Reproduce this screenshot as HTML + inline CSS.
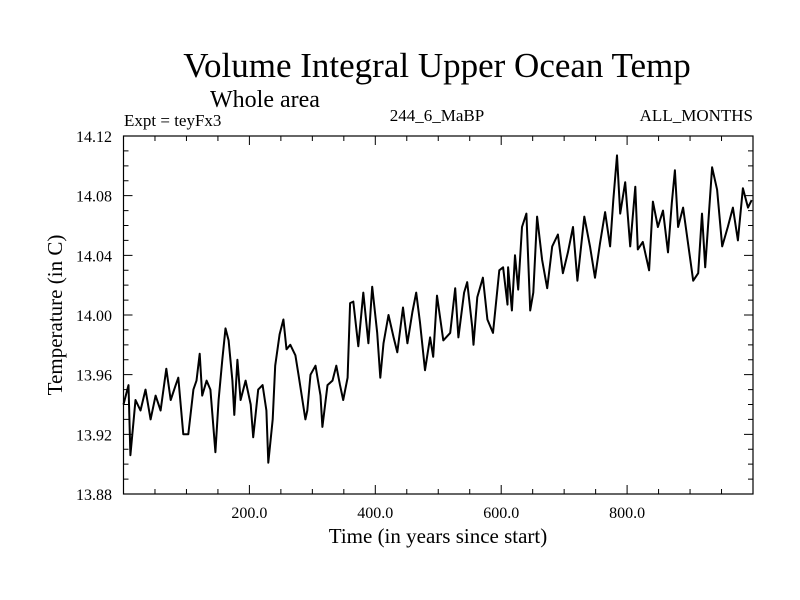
<!DOCTYPE html>
<html><head><meta charset="utf-8"><style>
body{margin:0;background:#fff}
svg{display:block;font-family:"Liberation Serif",serif}
</style></head><body>
<svg id="chart" width="800" height="600" viewBox="0 0 800 600">
<rect width="800" height="600" fill="#fff"/>
<text x="437" y="77" font-size="35" text-anchor="middle">Volume Integral Upper Ocean Temp</text>
<text x="265" y="107" font-size="24" text-anchor="middle">Whole area</text>
<text x="124" y="126" font-size="17">Expt = teyFx3</text>
<text x="437" y="121" font-size="17" text-anchor="middle">244_6_MaBP</text>
<text x="753" y="121" font-size="17" text-anchor="end">ALL_MONTHS</text>
<text x="438" y="543" font-size="21" text-anchor="middle">Time (in years since start)</text>
<text x="0" y="0" font-size="21" text-anchor="middle" transform="translate(62,315) rotate(-90)">Temperature (in C)</text>
<g id="axes"></g>
<g id="series"></g>
</svg>
<script>
const years=[0,8,11,19,27,35,43,51,59,68,75,83,87,95,103,111,116,121,125,132,138,146,151,157,162,167,173,176,181,186,194,202,206,214,221,227,230,237,241,248,254,259,265,273,278,289,292,297,305,313,316,324,332,338,344,349,356,360,365,373,381,389,395,403,408,413,421,429,435,444,451,459,465,471,479,487,492,498,508,519,527,532,541,546,554,556,562,571,578,587,597,603,610,611,617,622,627,633,640,646,651,657,665,673,681,690,698,706,714,721,732,741,749,757,765,773,778,784,789,797,805,813,817,825,835,841,849,857,865,871,876,881,889,905,913,919,924,935,943,951,960,968,976,984,992,998];
const temps=[13.940,13.953,13.906,13.943,13.936,13.950,13.930,13.946,13.936,13.964,13.943,13.953,13.958,13.920,13.920,13.950,13.956,13.974,13.946,13.956,13.950,13.908,13.943,13.970,13.991,13.983,13.956,13.933,13.970,13.943,13.956,13.940,13.918,13.950,13.953,13.936,13.901,13.930,13.966,13.987,13.997,13.977,13.980,13.973,13.960,13.930,13.936,13.960,13.966,13.946,13.925,13.953,13.956,13.966,13.953,13.943,13.958,14.008,14.009,13.979,14.015,13.981,14.019,13.988,13.958,13.981,14.000,13.985,13.975,14.005,13.981,14.002,14.015,13.995,13.963,13.985,13.972,14.013,13.983,13.988,14.018,13.985,14.015,14.022,13.992,13.980,14.012,14.025,13.997,13.988,14.030,14.032,14.007,14.032,14.003,14.040,14.017,14.059,14.068,14.003,14.015,14.066,14.037,14.018,14.046,14.054,14.028,14.042,14.059,14.023,14.066,14.046,14.025,14.048,14.069,14.046,14.077,14.107,14.068,14.089,14.046,14.086,14.044,14.049,14.030,14.076,14.059,14.070,14.042,14.075,14.097,14.059,14.072,14.023,14.028,14.068,14.032,14.099,14.084,14.046,14.059,14.072,14.050,14.085,14.072,14.077];
const yTicks=["13.88","13.92","13.96","14.00","14.04","14.08","14.12"];
const xTicks=["200.0","400.0","600.0","800.0"];
const X0=123.5,X1=753,Y0=494,Y1=136;
const xs=v=>X0+(v-0)/(1000-0)*(X1-X0);
const ys=v=>Y0-(v-13.88)/(0.24)*(Y0-Y1);
const NS="http://www.w3.org/2000/svg";
const ax=document.getElementById('axes'),se=document.getElementById('series');
function mk(tag,at,p){const e=document.createElementNS(NS,tag);for(const k in at)e.setAttribute(k,at[k]);p.appendChild(e);return e;}
const fr=mk('rect',{x:X0,y:Y1,width:X1-X0,height:Y0-Y1,fill:'none',stroke:'#000','stroke-width':1.2},ax);


let d='';
for(let i=1;i<24;i++){const v=13.88+i*0.01,y=ys(v),L=(i%4==0)?9:5;d+=`M${X0},${y}h${L}M${X1},${y}h${-L}`;}
for(let i=1;i<20;i++){const x=xs(i*50),L=(i%4==0)?9:5;d+=`M${x},${Y0}v${-L}M${x},${Y1}v${L}`;}
const tk=mk('path',{d:d,stroke:'#000','stroke-width':1,fill:'none'},ax);


yTicks.forEach(t=>{const e=mk('text',{x:112,y:ys(+t)+6,'font-size':16,'text-anchor':'end'},ax);e.textContent=t;

});
xTicks.forEach(t=>{const e=mk('text',{x:xs(+t),y:518,'font-size':16,'text-anchor':'middle'},ax);e.textContent=t;

});
const pts=years.map((yr,i)=>xs(yr).toFixed(1)+','+ys(temps[i]).toFixed(1)).join(' ');
const ln=mk('polyline',{points:pts,fill:'none',stroke:'#000','stroke-width':2,'stroke-linejoin':'round'},se);


</script>
</body></html>
